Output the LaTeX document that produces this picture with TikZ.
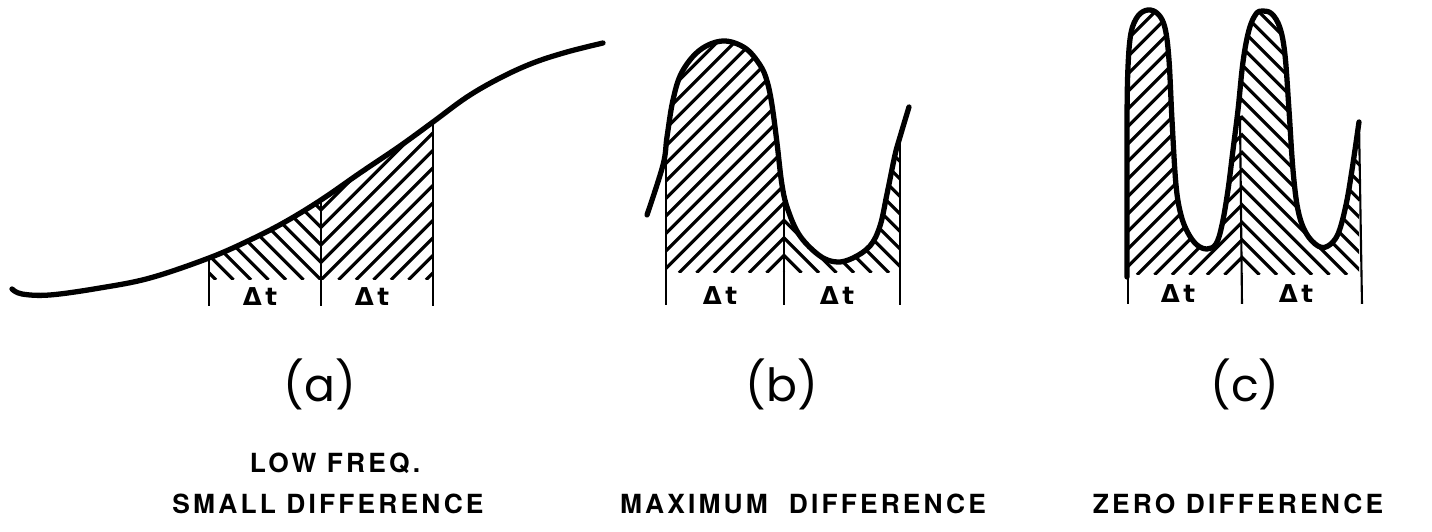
\documentclass[tikz,border=0pt]{standalone}
\usepackage{fontspec}
\setmainfont{Poppins}
\newfontfamily\dtfont{DejaVu Sans}
\newfontfamily\capfont[LetterSpace=12]{TeX Gyre Heros}
\usetikzlibrary{positioning}

\def\curveA{plot[smooth, tension=0.6] coordinates {(12,289) (22,294) (50,295) (100,288) (150,278) (209,258) (250,240) (285,222) (321,200) (360,173) (400,146) (433,122) (467,97) (500,78) (533,63) (567,52) (603,43)}}
\def\curveB{plot[smooth, tension=0.6] coordinates {(647,215) (663,165) (667,137) (673,100) (682,72) (700,50) (723,41) (745,48) (760,65) (767,81) (772,105) (777,143) (782,185) (788,210) (800,236) (820,256) (837,262) (853,258) (870,246) (880,226) (887,194) (895,155) (900,137) (909,107)}}
\def\curveC{plot[smooth, tension=0.6] coordinates {(1127,277) (1127,200) (1127,120) (1128,67) (1131,33) (1138,16) (1148,10) (1158,14) (1165,28) (1169,60) (1172,120) (1176,185) (1181,215) (1188,233) (1197,245) (1207,249) (1216,244) (1222,225) (1228,190) (1233,150) (1238,110) (1243,62) (1249,30) (1256,14) (1263,11) (1272,14) (1280,28) (1285,55) (1289,110) (1293,170) (1298,210) (1306,233) (1318,246) (1328,246) (1338,234) (1346,205) (1352,170) (1359,122)}}

\begin{document}
\begin{tikzpicture}[x=0.1mm, y=-0.1mm,
    curve/.style={line width=1.5pt, line cap=round, line join=round},
    tick/.style={line width=0.6pt},
    hatch/.style={line width=0.9pt},
    dt/.style={font=\dtfont\bfseries\fontsize{7}{8}\selectfont, inner sep=0pt},
    panel/.style={font=\fontsize{13}{15}\selectfont, inner sep=0pt},
    caption/.style={font=\capfont\bfseries\fontsize{7.5}{9}\selectfont, inner sep=0pt, anchor=base}]
  \useasboundingbox (0,0) rectangle (1432,532);

  % (a) low frequency
  \begin{scope}
    \clip \curveA -- (603,330) -- (12,330) -- cycle;
    \clip (209,0) rectangle (321,280);
    \foreach \u in {-8,...,20} \draw[hatch] (321+\u*17.5,280) -- ++(-300,-300);
  \end{scope}
  \begin{scope}
    \clip \curveA -- (603,330) -- (12,330) -- cycle;
    \clip (321,0) rectangle (433,280);
    \foreach \u in {-20,...,8} \draw[hatch] (321+\u*17.5,280) -- ++(300,-300);
  \end{scope}
  \draw[curve] \curveA;
  \draw[tick] (209,258) -- (209,306);
  \draw[tick] (321,200) -- (321,306);
  \draw[tick] (433,122) -- (433,306);
  \node[dt] (dta1) at (260,297) {Δ\kern0.15em t};
  \node[dt] (dta2) at (372,297) {Δ\kern0.15em t};

  % (b) maximum difference
  \begin{scope}
    \clip \curveB -- (909,330) -- (647,330) -- cycle;
    \clip (666,0) rectangle (784,273);
    \foreach \u in {-20,...,8} \draw[hatch] (784+\u*17.5,273) -- ++(300,-300);
  \end{scope}
  \begin{scope}
    \clip \curveB -- (909,330) -- (647,330) -- cycle;
    \clip (784,0) rectangle (900,273);
    \foreach \u in {-8,...,20} \draw[hatch] (784+\u*17.5,273) -- ++(-300,-300);
  \end{scope}
  \draw[curve] \curveB;
  \draw[tick] (666,140) -- (666,305);
  \draw[tick] (784,197) -- (784,305);
  \draw[tick] (900,140) -- (900,305);
  \node[dt] (dtb1) at (720,296) {Δ\kern0.15em t};
  \node[dt] (dtb2) at (837,296) {Δ\kern0.15em t};

  % (c) zero difference
  \begin{scope}
    \clip \curveC -- (1359,330) -- (1127,330) -- cycle;
    \clip (1128,0) rectangle (1242,275);
    \foreach \u in {-20,...,8} \draw[hatch] (1242+\u*17.5,275) -- ++(300,-300);
  \end{scope}
  \begin{scope}
    \clip \curveC -- (1359,330) -- (1127,330) -- cycle;
    \clip (1242,0) rectangle (1361,275);
    \foreach \u in {-8,...,20} \draw[hatch] (1242+\u*17.5,275) -- ++(-300,-300);
  \end{scope}
  \draw[curve] \curveC;
  \draw[tick] (1128,277) -- (1128,304);
  \draw[tick] (1240,116) -- (1242,304);
  \draw[tick] (1359,122) -- (1362,304);
  \node[dt] (dtc1) at (1178,294) {Δ\kern0.15em t};
  \node[dt] (dtc2) at (1296,294) {Δ\kern0.15em t};

  \node[panel] (lbla) at (320,384) {(a)};
  \node[panel] (lblb) at (782,384) {(b)};
  \node[panel] (lblc) at (1245,384) {(c)};

  \node[caption] (capa1) at (335,473) {LOW FREQ.};
  \node[caption] (capa2) at (328,514) {SMALL DIFFERENCE};
  \node[caption] (capb) at (803,514) {MAXIMUM\ \ DIFFERENCE};
  \node[caption] (capc) at (1238,514) {ZERO DIFFERENCE};
\end{tikzpicture}
\end{document}
